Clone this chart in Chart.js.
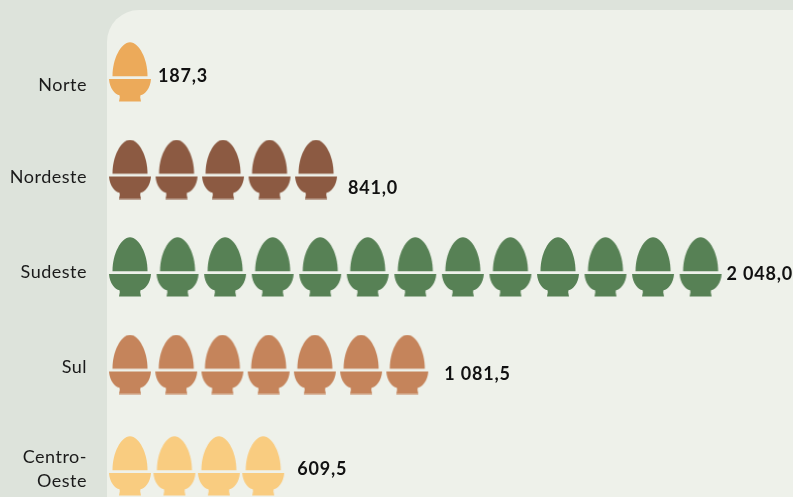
<!DOCTYPE html>
<html lang="pt-BR">
<head>
<meta charset="utf-8">
<title>Ovos por região</title>
<script src="https://cdn.jsdelivr.net/npm/chart.js@4"></script>
<style>
  html, body { margin: 0; padding: 0; background: #dde3db; overflow: hidden; }
  canvas { display: block; }
</style>
</head>
<body>
<canvas id="graficoOvos" width="793" height="497"></canvas>
<script>
// dados
const categories = ['Norte', 'Nordeste', 'Sudeste', 'Sul', ['Centro-', 'Oeste']];
const values = [187.3, 841.0, 2048.0, 1081.5, 609.5];
const iconCounts = [1, 5, 13, 7, 4];
const colors = ['#ecaa5a', '#8c5a42', '#578155', '#c5845b', '#f9cc80'];

// ajustes de layout por linha
const rowPx = 97.5;
const iconPitch = [1, 0.978, 1, 0.972, 0.934];
const rowNudge = [0, 0, 0, 0, 0.041];
const labelDrop = [13, 7.5, 5, 2.5, 7];
const valueGap = [28, 32, 26, 37, 34];
const valueDrop = [4, 18.5, 7, 9.5, 3];

function formatValue(v) {
  const parts = v.toFixed(1).split('.');
  return parts[0].replace(/\B(?=(\d{3})+$)/g, ' ') + ',' + parts[1];
}

// desenha o ovo no porta-ovo, usado como pointStyle
function eggIcon(color) {
  const c = document.createElement('canvas');
  c.width = 44;
  c.height = 60;
  const g = c.getContext('2d');
  g.translate(22, 0.3);
  g.fillStyle = color;
  g.beginPath();
  g.moveTo(-17.5, 34);
  g.lineTo(17.5, 34);
  g.bezierCurveTo(17.7, 17, 9, 0, 0, 0);
  g.bezierCurveTo(-9, 0, -17.7, 17, -17.5, 34);
  g.closePath();
  g.fill();
  g.beginPath();
  g.moveTo(-21, 36.7);
  g.lineTo(21, 36.7);
  g.bezierCurveTo(20.5, 46, 15, 52, 10.5, 53);
  g.lineTo(10.2, 55);
  g.lineTo(11, 59.3);
  g.lineTo(-11, 59.3);
  g.lineTo(-10.2, 55);
  g.lineTo(-10.5, 53);
  g.bezierCurveTo(-15, 52, -20.5, 46, -21, 36.7);
  g.closePath();
  g.fill();
  return c;
}

const datasets = categories.map((cat, i) => {
  const data = [];
  for (let k = 0; k < iconCounts[i]; k++) {
    data.push({ x: 1 + k * iconPitch[i], y: i + rowNudge[i] });
  }
  return {
    label: Array.isArray(cat) ? cat.join('') : cat,
    data: data,
    pointStyle: eggIcon(colors[i]),
    pointRadius: 20,
    pointBorderWidth: 0,
    clip: false
  };
});

const panelPlugin = {
  id: 'panel',
  beforeDraw(chart) {
    const a = chart.chartArea;
    const g = chart.ctx;
    g.letterSpacing = '0.5px';
    g.save();
    g.fillStyle = '#eef1ea';
    g.beginPath();
    g.roundRect(a.left, a.top, a.right - a.left + 40, a.bottom - a.top + 40, 32);
    g.fill();
    g.restore();
  }
};

const valueLabels = {
  id: 'valueLabels',
  afterDatasetsDraw(chart) {
    const g = chart.ctx;
    g.save();
    g.font = 'bold 18px Lato';
    g.letterSpacing = '0.8px';
    g.fillStyle = '#111';
    g.textAlign = 'left';
    g.textBaseline = 'middle';
    values.forEach((v, i) => {
      const pts = chart.getDatasetMeta(i).data;
      const last = pts[pts.length - 1];
      g.fillText(formatValue(v), last.x + valueGap[i], last.y + valueDrop[i]);
    });
    g.restore();
  }
};

const grafico = new Chart(document.getElementById('graficoOvos'), {
  type: 'scatter',
  data: { datasets: datasets },
  plugins: [panelPlugin, valueLabels],
  options: {
    responsive: false,
    animation: false,
    layout: { autoPadding: false, padding: { top: 10 } },
    plugins: {
      legend: { display: false },
      tooltip: { enabled: false }
    },
    scales: {
      x: {
        type: 'linear',
        display: false,
        min: 1 - 23 / 47.55,
        max: 1 + 663 / 47.55
      },
      y: {
        type: 'linear',
        reverse: true,
        min: -62 / rowPx,
        max: 425 / rowPx,
        afterFit(scale) {
          scale.width = 107;
          scale.paddingTop = 0;
          scale.paddingBottom = 0;
        },
        afterBuildTicks(scale) {
          scale.ticks = categories.map((c, i) => ({ value: i + labelDrop[i] / rowPx }));
        },
        grid: { display: false, drawTicks: false },
        border: { display: false },
        ticks: {
          autoSkip: false,
          padding: 20,
          color: '#1a1a1a',
          font: { family: 'Lato', size: 18, lineHeight: 1.3 },
          callback: (value, index) => categories[index]
        }
      }
    }
  }
});
</script>
</body>
</html>
